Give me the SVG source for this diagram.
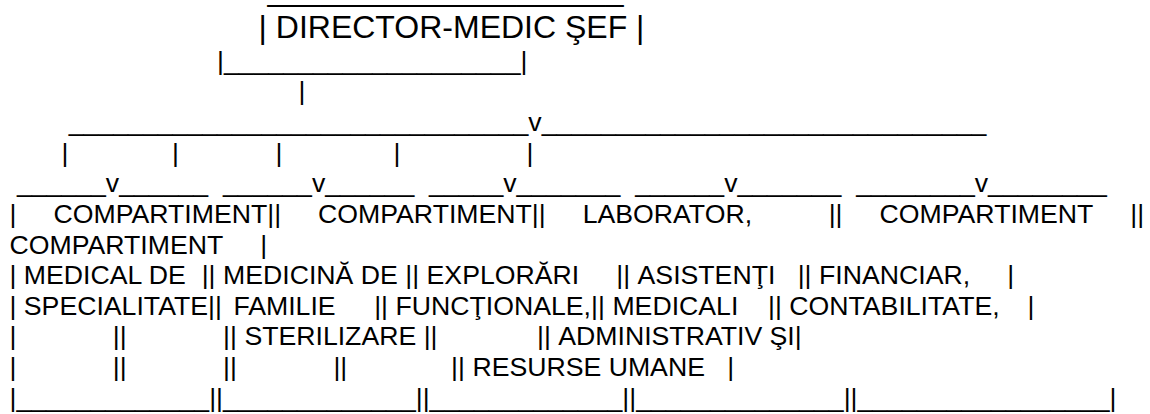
<svg xmlns="http://www.w3.org/2000/svg" width="1150" height="414" viewBox="0 0 1150 414">
<style>
text{font-family:"Liberation Sans",Arial,sans-serif;fill:#000;white-space:pre}
.t{font-size:26.67px}
.b{font-size:32px}
</style>
<rect width="1150" height="414" fill="#fff"/>
<g id="director">
<text class="b" x="267.5" y="0.9">____________________</text>
<text class="b" x="258.6" y="37.7">| DIRECTOR-MEDIC ŞEF |</text>
<text class="t" x="217.1" y="69.6">|____________________|</text>
</g>
<g id="connectors">
<text class="t" x="298.6" y="100.25">|</text>
<text class="t" x="68.8" y="130.9">_______________________________v______________________________</text>
<text class="t" y="161.55"><tspan x="61.4">|</tspan><tspan x="172.1">|</tspan><tspan x="275.4">|</tspan><tspan x="393.6">|</tspan><tspan x="526.6">|</tspan></text>
<text class="t" y="192.2"><tspan x="16.9">______v______</tspan><tspan x="223.0">______v______</tspan><tspan x="429.1">_____v_______</tspan><tspan x="635.2">______v_______</tspan><tspan x="856.2">________v________</tspan></text>
</g>
<g id="compartments">
<text class="t" y="222.85"><tspan x="9.5">|</tspan><tspan x="53.5">COMPARTIMENT||</tspan><tspan x="318.1">COMPARTIMENT||</tspan><tspan x="582.7">LABORATOR,</tspan><tspan x="828.7">||</tspan><tspan x="879.6">COMPARTIMENT</tspan><tspan x="1130.3">||</tspan></text>
<text class="t" y="253.5"><tspan x="9.5">COMPARTIMENT</tspan><tspan x="260.2">|</tspan></text>
<text class="t" y="284.15"><tspan x="9.5">|</tspan><tspan x="23.84">MEDICAL DE</tspan><tspan x="201.7">||</tspan><tspan x="223.0">MEDICINĂ DE</tspan><tspan x="405.3">||</tspan><tspan x="426.6">EXPLORĂRI</tspan><tspan x="616.3">||</tspan><tspan x="637.6">ASISTENŢI</tspan><tspan x="797.7">||</tspan><tspan x="819.0">FINANCIAR,</tspan><tspan x="1007.2">|</tspan></text>
<text class="t" y="314.8"><tspan x="9.5">|</tspan><tspan x="23.84">SPECIALITATE||</tspan><tspan x="233.4">FAMILIE</tspan><tspan x="374.2">||</tspan><tspan x="395.5">FUNCŢIONALE,||</tspan><tspan x="612.4">MEDICALI</tspan><tspan x="768.0">||</tspan><tspan x="789.3">CONTABILITATE,</tspan><tspan x="1027.6">|</tspan></text>
<text class="t" y="345.45"><tspan x="9.5">|</tspan><tspan x="112.8">||</tspan><tspan x="223.1">||</tspan><tspan x="244.4">STERILIZARE</tspan><tspan x="423.7">||</tspan><tspan x="537.0">||</tspan><tspan x="558.3">ADMINISTRATIV ŞI|</tspan></text>
<text class="t" y="376.1"><tspan x="9.5">|</tspan><tspan x="112.8">||</tspan><tspan x="223.1">||</tspan><tspan x="333.4">||</tspan><tspan x="451.1">||</tspan><tspan x="472.4">RESURSE UMANE</tspan><tspan x="727.2">|</tspan></text>
<text class="t" x="9.5" y="406.75">|_____________||_____________||_____________||______________||_________________|</text>
</g>
</svg>
